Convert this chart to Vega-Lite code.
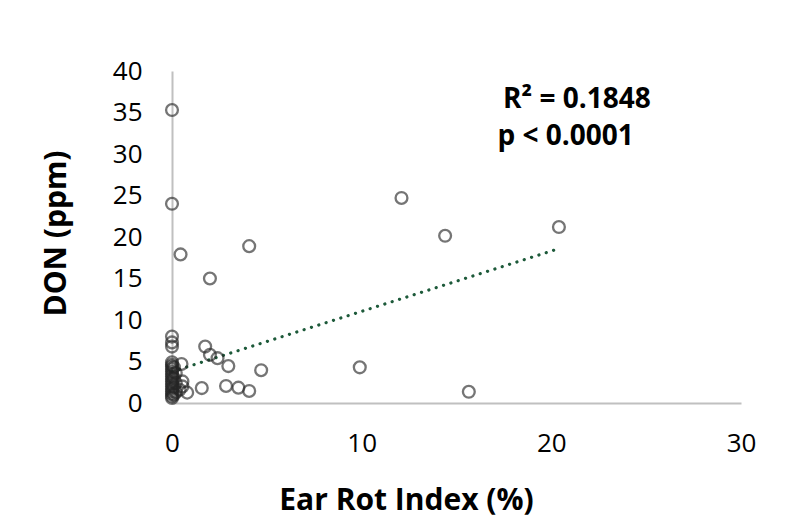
{
  "$schema": "https://vega.github.io/schema/vega-lite/v6.json",
  "width": 569,
  "height": 332,
  "autosize": {"type": "none"},
  "padding": {"left": 172, "top": 71, "right": 54, "bottom": 120},
  "background": "white",
  "config": {
    "view": {"stroke": null},
    "font": "Open Sans"
  },
  "datasets": {
    "points": [
      {"eri": 0, "don": 35.3},
      {"eri": 0, "don": 24.0},
      {"eri": 0.45, "don": 17.9},
      {"eri": 4.07, "don": 18.9},
      {"eri": 2.0, "don": 15.0},
      {"eri": 12.1, "don": 24.7},
      {"eri": 14.4, "don": 20.15},
      {"eri": 20.4, "don": 21.2},
      {"eri": 9.9, "don": 4.3},
      {"eri": 15.65, "don": 1.35},
      {"eri": 4.7, "don": 3.95},
      {"eri": 0, "don": 8.0},
      {"eri": 0, "don": 7.3},
      {"eri": 0, "don": 6.8},
      {"eri": 1.75, "don": 6.8},
      {"eri": 2.0, "don": 5.8},
      {"eri": 2.4, "don": 5.4},
      {"eri": 2.97, "don": 4.45},
      {"eri": 2.85, "don": 2.05},
      {"eri": 3.5, "don": 1.85},
      {"eri": 4.07, "don": 1.45},
      {"eri": 1.57, "don": 1.8},
      {"eri": 0.5, "don": 4.7},
      {"eri": 0.55, "don": 2.6},
      {"eri": 0.55, "don": 2.0},
      {"eri": 0.8, "don": 1.25},
      {"eri": 0.4, "don": 1.6},
      {"eri": 0, "don": 4.9},
      {"eri": 0, "don": 4.6},
      {"eri": 0, "don": 4.4},
      {"eri": 0, "don": 4.1},
      {"eri": 0, "don": 3.8},
      {"eri": 0, "don": 3.5},
      {"eri": 0, "don": 3.2},
      {"eri": 0, "don": 2.9},
      {"eri": 0, "don": 2.6},
      {"eri": 0, "don": 2.3},
      {"eri": 0, "don": 2.0},
      {"eri": 0, "don": 1.7},
      {"eri": 0, "don": 1.4},
      {"eri": 0, "don": 1.1},
      {"eri": 0, "don": 0.8},
      {"eri": 0, "don": 0.6},
      {"eri": 0.1, "don": 4.3},
      {"eri": 0.1, "don": 3.0},
      {"eri": 0.1, "don": 1.9},
      {"eri": 0.1, "don": 1.0},
      {"eri": 0.2, "don": 3.6},
      {"eri": 0.2, "don": 2.4},
      {"eri": 0.2, "don": 1.3}
    ],
    "trend": [
      {"eri": 0, "don": 3.77},
      {"eri": 20.4, "don": 18.6}
    ],
    "labels": [
      {"eri": 21.35, "don": 36.5, "label": "R² = 0.1848"},
      {"eri": 20.75, "don": 32.05, "label": "p < 0.0001"}
    ]
  },
  "layer": [
    {
      "data": {"name": "trend"},
      "mark": {"type": "line", "color": "#1d5a3a", "strokeWidth": 3.2, "strokeDash": [0.1, 7.6], "strokeCap": "round"},
      "encoding": {
        "x": {
          "field": "eri", "type": "quantitative",
          "scale": {"domain": [0, 30], "nice": false},
          "axis": {
            "values": [0, 10, 20, 30],
            "grid": false, "ticks": false,
            "domainColor": "#c0c0c0", "domainWidth": 2,
            "labelFont": "Open Sans", "labelFontSize": 26, "labelColor": "#000000",
            "labelPadding": 27, "labelFlush": false,
            "title": "Ear Rot Index (%)",
            "titleFont": "Open Sans", "titleFontSize": 30, "titleFontWeight": "bold", "titleColor": "#000000",
            "titleX": 234, "titleY": 97, "titleAlign": "center", "titleBaseline": "middle"
          }
        },
        "y": {
          "field": "don", "type": "quantitative",
          "scale": {"domain": [0, 40], "nice": false},
          "axis": {
            "values": [0, 5, 10, 15, 20, 25, 30, 35, 40],
            "grid": false, "ticks": false,
            "domainColor": "#c0c0c0", "domainWidth": 2,
            "labelFont": "Open Sans", "labelFontSize": 26, "labelColor": "#000000",
            "labelPadding": 30,
            "title": "DON (ppm)",
            "titleFont": "Open Sans", "titleFontSize": 30, "titleFontWeight": "bold", "titleColor": "#000000",
            "titleX": -116, "titleY": 162, "titleAngle": -90, "titleAlign": "center", "titleBaseline": "middle"
          }
        }
      }
    },
    {
      "data": {"name": "points"},
      "mark": {"type": "point", "shape": "circle", "filled": false, "size": 140, "stroke": "#262626", "strokeWidth": 2.3, "strokeOpacity": 0.9},
      "encoding": {
        "x": {"field": "eri", "type": "quantitative"},
        "y": {"field": "don", "type": "quantitative"}
      }
    },
    {
      "data": {"name": "labels"},
      "mark": {"type": "text", "font": "Open Sans", "fontSize": 28, "fontWeight": "bold", "color": "#000000", "align": "center", "baseline": "middle"},
      "encoding": {
        "x": {"field": "eri", "type": "quantitative"},
        "y": {"field": "don", "type": "quantitative"},
        "text": {"field": "label"}
      }
    }
  ]
}
